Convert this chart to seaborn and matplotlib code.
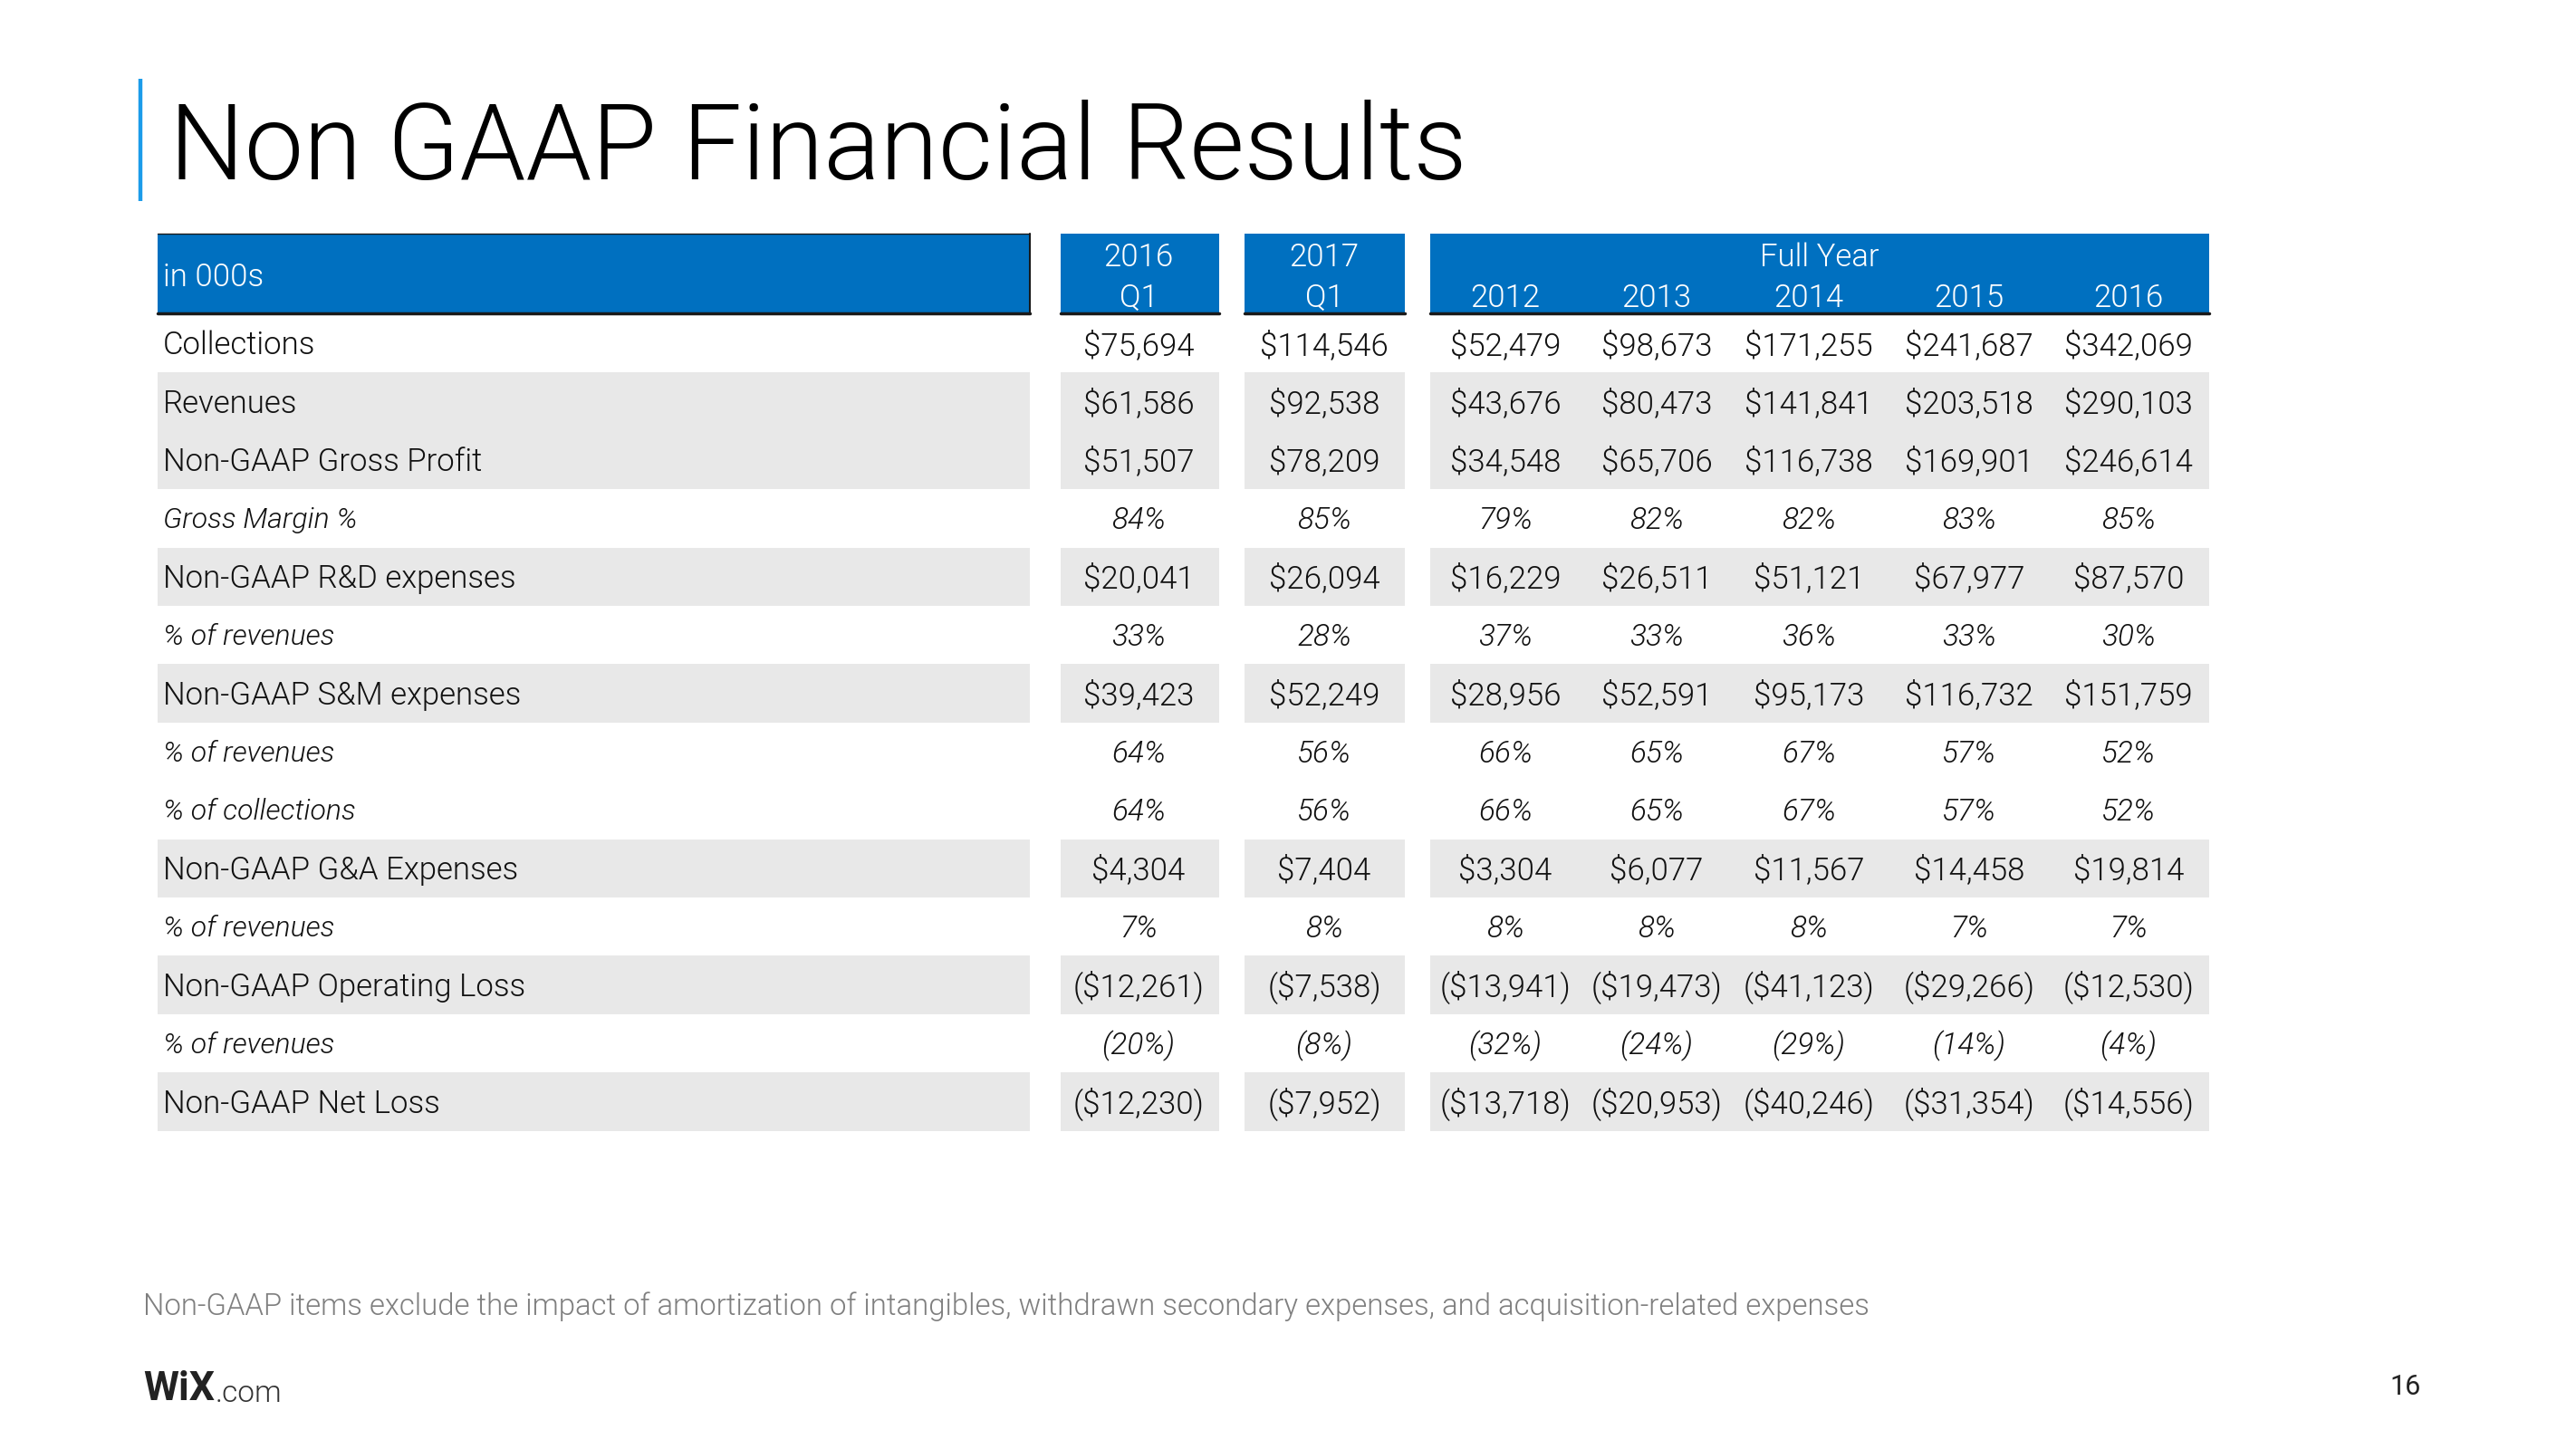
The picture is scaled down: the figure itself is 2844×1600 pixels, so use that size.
import matplotlib
matplotlib.use("Agg")
import matplotlib.pyplot as plt
from matplotlib.patches import Rectangle
import seaborn as sns

sns.set_theme(style="white")
plt.rcParams['font.family'] = ['Roboto', 'DejaVu Sans']
plt.rcParams['font.weight'] = 300

# ---------------- data ----------------
title = "Non GAAP Financial Results"
corner_label = "in 000s"
period_top = ["2016", "2017", "Full Year"]
column_labels = ["Q1", "Q1", "2012", "2013", "2014", "2015", "2016"]

row_labels = ["Collections", "Revenues", "Non-GAAP Gross Profit", "Gross Margin %",
              "Non-GAAP R&D expenses", "% of revenues", "Non-GAAP S&M expenses",
              "% of revenues", "% of collections", "Non-GAAP G&A Expenses",
              "% of revenues", "Non-GAAP Operating Loss", "% of revenues",
              "Non-GAAP Net Loss"]
row_kind = ["usd", "usd", "usd", "pct", "usd", "pct", "usd", "pct", "pct", "usd",
            "pct", "usd", "pct", "usd"]
row_shaded = [False, True, True, False, True, False, True, False, False, True,
              False, True, False, True]

collections = [75694, 114546, 52479, 98673, 171255, 241687, 342069]
revenues = [61586, 92538, 43676, 80473, 141841, 203518, 290103]
gross_profit = [51507, 78209, 34548, 65706, 116738, 169901, 246614]
gross_margin = [84, 85, 79, 82, 82, 83, 85]
rd_expenses = [20041, 26094, 16229, 26511, 51121, 67977, 87570]
rd_pct_rev = [33, 28, 37, 33, 36, 33, 30]
sm_expenses = [39423, 52249, 28956, 52591, 95173, 116732, 151759]
sm_pct_rev = [64, 56, 66, 65, 67, 57, 52]
sm_pct_coll = [64, 56, 66, 65, 67, 57, 52]
ga_expenses = [4304, 7404, 3304, 6077, 11567, 14458, 19814]
ga_pct_rev = [7, 8, 8, 8, 8, 7, 7]
operating_loss = [-12261, -7538, -13941, -19473, -41123, -29266, -12530]
op_pct_rev = [-20, -8, -32, -24, -29, -14, -4]
net_loss = [-12230, -7952, -13718, -20953, -40246, -31354, -14556]

rows = [collections, revenues, gross_profit, gross_margin, rd_expenses, rd_pct_rev,
        sm_expenses, sm_pct_rev, sm_pct_coll, ga_expenses, ga_pct_rev,
        operating_loss, op_pct_rev, net_loss]

footnote = ("Non-GAAP items exclude the impact of amortization of intangibles, "
            "withdrawn secondary expenses, and acquisition-related expenses")
page_number = "16"

# ---------------- layout ----------------
W, H = 2844, 1600
BLUE = "#0070C0"
ACCENT = "#1C9CEA"
GRAY = "#E8E8E8"

blocks = [(174, 1137), (1171, 1346), (1374, 1551), (1579, 2439)]
col_centers = [1257, 1462, 1662, 1829, 1997, 2174, 2350]
head_top, head_bot = 258, 347
row_top0 = 347
row_h = 64.4


def fmt(v, kind):
    if kind == "usd":
        s = "${:,}".format(abs(v))
    else:
        s = "{}%".format(abs(v))
    return "({})".format(s) if v < 0 else s


fig = plt.figure(figsize=(W / 100, H / 100), dpi=100)
ax = fig.add_axes([0, 0, 1, 1])
ax.set_xlim(0, W)
ax.set_ylim(H, 0)
ax.axis("off")

# title
ax.plot([155, 155], [87, 222], color=ACCENT, lw=3.2, solid_capstyle="butt")
ax.text(187, 154, title, fontsize=84, fontweight=300, color="black",
        va="center_baseline", ha="left")

# header
for bi, (l, r) in enumerate(blocks):
    ax.add_patch(Rectangle((l, head_top), r - l, head_bot - head_top,
                           facecolor=BLUE, edgecolor="none"))
    ax.plot([l, r], [head_bot - 1, head_bot - 1], color="#1a1a1a", lw=2.5)
ax.plot([blocks[0][1], blocks[0][1]], [head_top, head_bot], color="#1a1a1a", lw=1.5)
ax.plot([blocks[0][0], blocks[0][1]], [head_top, head_top], color="#1a1a1a", lw=1.0)

hfs = 25
kw = dict(fontsize=hfs, fontweight=300, color="white", va="center_baseline")
ax.text(180, 303, corner_label, ha="left", **kw)
ax.text(col_centers[0], 281, period_top[0], ha="center", **kw)
ax.text(col_centers[1], 281, period_top[1], ha="center", **kw)
ax.text((blocks[3][0] + blocks[3][1]) / 2, 281, period_top[2], ha="center", **kw)
for c, lab in enumerate(column_labels):
    ax.text(col_centers[c], 326, lab, ha="center", **kw)

# body
fs = 25
for i, (lab, vals) in enumerate(zip(row_labels, rows)):
    top = row_top0 + i * row_h
    cy = top + row_h / 2 - 1
    kind = row_kind[i]
    if row_shaded[i]:
        for (l, r) in blocks:
            ax.add_patch(Rectangle((l, top), r - l, row_h, facecolor=GRAY,
                                   edgecolor="none"))
    style = "italic" if kind == "pct" else "normal"
    lfs = fs - 2 if kind == "pct" else fs
    ax.text(180, cy, lab, fontsize=lfs, fontweight=300, style=style, color="#111111",
            va="center_baseline", ha="left")
    for c, v in enumerate(vals):
        ax.text(col_centers[c], cy, fmt(v, kind), fontsize=fs if kind == "usd" else fs - 1,
                fontweight=300, style=style, color="#111111",
                va="center_baseline", ha="center")

# footnote
ax.text(158, 1439, footnote, fontsize=23.7, fontweight=300, color="#7f7f7f",
        va="center_baseline", ha="left")

# logo
t = ax.text(158, 1530, "WiX", fontsize=32, fontweight="bold", color="#222222",
            va="center_baseline", ha="left")
fig.canvas.draw()
bb = t.get_window_extent()
x_end = bb.x1 + 1
ax.text(x_end, 1536, ".com", fontsize=24, fontweight=300, color="#333333",
        va="center_baseline", ha="left")

# page number
ax.text(2656, 1529, page_number, fontsize=22, fontweight=400, color="#222222",
        va="center_baseline", ha="center")

fig.savefig("out.png", dpi=100, facecolor="white")
